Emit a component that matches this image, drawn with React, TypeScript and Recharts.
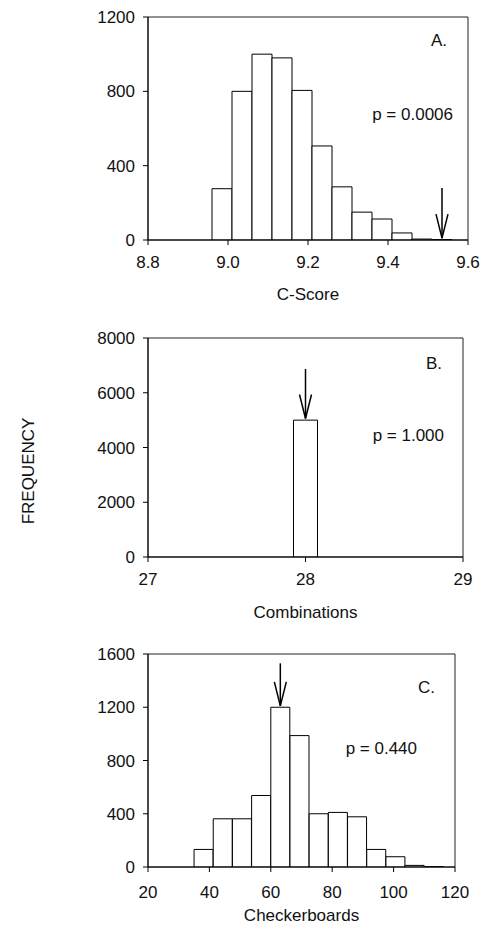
import { BarChart, Bar, XAxis, YAxis, ReferenceArea, ReferenceLine } from 'recharts';

// A. C-score null distribution
const aBins = [8.985, 9.035, 9.085, 9.135, 9.185, 9.235, 9.285, 9.335, 9.385, 9.435, 9.485, 9.535];
const aCounts = [276, 800, 1000, 980, 805, 506, 286, 150, 113, 38, 5, 2];
const aXTicks = [8.8, 9.0, 9.2, 9.4, 9.6];
const aYTicks = [0, 400, 800, 1200];
const aArrow = [9.535, 280, 10]; // observed x, arrow top, arrow tip

// B. Combinations
const bBins = [28];
const bCounts = [5000];
const bXTicks = [27, 28, 29];
const bYTicks = [0, 2000, 4000, 6000, 8000];
const bArrow = [28, 6870, 5060];

// C. Checkerboards
const cBins = [38.125, 44.375, 50.625, 56.875, 63.125, 69.375, 75.625, 81.875, 88.125, 94.375, 100.625, 106.875, 113.125];
const cCounts = [132, 362, 362, 537, 1200, 987, 400, 410, 377, 132, 77, 12, 2];
const cXTicks = [20, 40, 60, 80, 100, 120];
const cYTicks = [0, 400, 800, 1200, 1600];
const cArrow = [63.1, 1530, 1210];

const FONT = '"Liberation Sans", Arial, sans-serif';
const tickStyle = { fontSize: 17, fill: '#111', fontFamily: FONT };

function Arrow(props: any) {
  const { x1, y1, x2, y2 } = props;
  return (
    <g stroke="#000" strokeWidth={1.5} fill="none">
      <line x1={x1} y1={y1} x2={x2} y2={y2} />
      <path d={`M${x2 - 6},${y2 - 24}L${x2},${y2}L${x2 + 6},${y2 - 24}`} />
    </g>
  );
}

interface PanelProps {
  top: number;
  height: number;
  marginTop: number;
  right: number;
  bins: number[];
  counts: number[];
  xTicks: number[];
  yTicks: number[];
  arrow: number[];
  xLabel: string;
  fmt?: (v: number) => string;
  barSize?: number;
  tickMargin: number;
  labelOffset: number;
}

function Panel(p: PanelProps) {
  const data = p.bins.map((x, i) => ({ x, n: p.counts[i] }));
  const xDom: [number, number] = [p.xTicks[0], p.xTicks[p.xTicks.length - 1]];
  const yDom: [number, number] = [p.yTicks[0], p.yTicks[p.yTicks.length - 1]];
  return (
    <div style={{ position: 'absolute', left: 0, top: p.top }}>
      <BarChart
        width={483}
        height={p.height}
        data={data}
        margin={{ top: p.marginTop, right: p.right, left: 0, bottom: 0 }}
        barCategoryGap={0}
        barGap={0}
      >
        <ReferenceArea x1={xDom[0]} x2={xDom[1]} y1={yDom[0]} y2={yDom[1]} fill="none" stroke="#222" strokeOpacity={1} fillOpacity={0} />
        <XAxis
          type="number"
          dataKey="x"
          domain={xDom}
          ticks={p.xTicks}
          allowDataOverflow
          tickFormatter={p.fmt}
          tick={tickStyle}
          tickSize={5}
          tickMargin={p.tickMargin}
          height={64}
          stroke="#000"
          label={{ value: p.xLabel, position: 'insideBottom', offset: p.labelOffset, style: tickStyle }}
        />
        <YAxis
          type="number"
          domain={yDom}
          ticks={p.yTicks}
          allowDataOverflow
          tick={tickStyle}
          tickSize={5}
          tickMargin={8}
          width={148}
          stroke="#000"
        />
        <Bar dataKey="n" fill="#fff" stroke="#000" strokeWidth={1} barSize={p.barSize} isAnimationActive={false} />
        <ReferenceLine
          segment={[{ x: p.arrow[0], y: p.arrow[1] }, { x: p.arrow[0], y: p.arrow[2] }]}
          shape={Arrow}
        />
      </BarChart>
    </div>
  );
}

const annoStyle = { fontSize: 17, fill: '#111', fontFamily: FONT };

export default function App() {
  return (
    <div style={{ position: 'absolute', left: 0, top: 0, width: 483, height: 932, background: '#fff', overflow: 'hidden' }}>
      <Panel top={0} height={304} marginTop={17} right={15} bins={aBins} counts={aCounts}
        xTicks={aXTicks} yTicks={aYTicks} arrow={aArrow} xLabel="C-Score"
        fmt={(v) => v.toFixed(1)} tickMargin={11} labelOffset={4} />
      <Panel top={320} height={301} marginTop={18} right={20} bins={bBins} counts={bCounts}
        xTicks={bXTicks} yTicks={bYTicks} arrow={bArrow} xLabel="Combinations"
        barSize={24} tickMargin={11} labelOffset={3} />
      <Panel top={636} height={295} marginTop={18} right={28} bins={cBins} counts={cCounts}
        xTicks={cXTicks} yTicks={cYTicks} arrow={cArrow} xLabel="Checkerboards"
        tickMargin={14} labelOffset={10} />
      <svg width={483} height={932} style={{ position: 'absolute', left: 0, top: 0, pointerEvents: 'none' }}>
        <text x={447} y={40} textAnchor="end" dominantBaseline="central" style={annoStyle}>A.</text>
        <text x={453} y={114} textAnchor="end" dominantBaseline="central" style={annoStyle}>p = 0.0006</text>
        <text x={442} y={363} textAnchor="end" dominantBaseline="central" style={annoStyle}>B.</text>
        <text x={444} y={435} textAnchor="end" dominantBaseline="central" style={annoStyle}>p = 1.000</text>
        <text x={435} y={687} textAnchor="end" dominantBaseline="central" style={annoStyle}>C.</text>
        <text x={417} y={748} textAnchor="end" dominantBaseline="central" style={annoStyle}>p = 0.440</text>
        <text x={28} y={471} textAnchor="middle" dominantBaseline="central" transform="rotate(-90 28 471)" style={annoStyle}>FREQUENCY</text>
      </svg>
    </div>
  );
}
